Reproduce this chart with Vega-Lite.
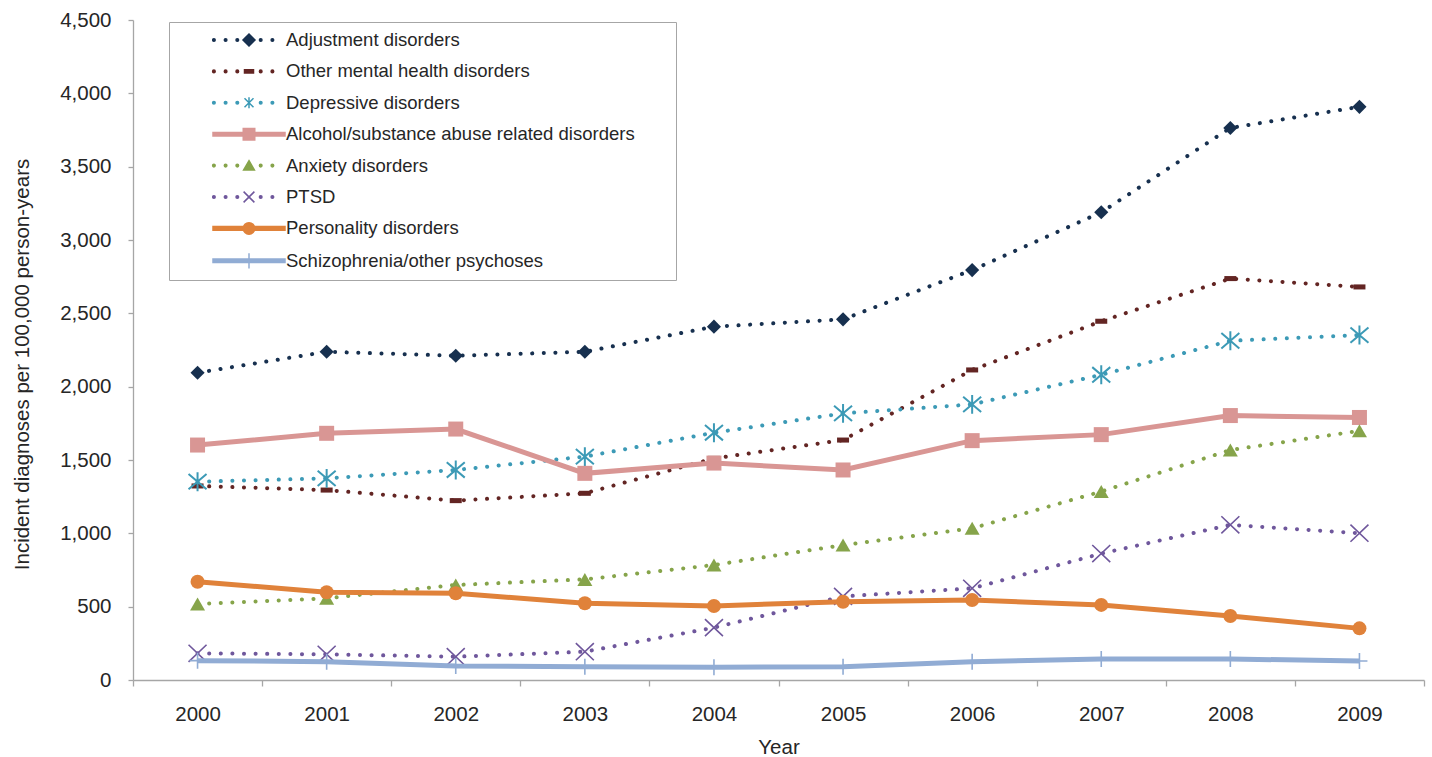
{
  "$schema": "https://vega.github.io/schema/vega-lite/v6.json",
  "autosize": "none",
  "width": 1291,
  "height": 660,
  "padding": {"left": 133, "top": 20, "right": 8, "bottom": 77},
  "background": "#ffffff",
  "config": {"view": {"stroke": null}},
  "data": {"values": [
    {"year": "2000", "series": "Adjustment disorders", "value": 2095},
    {"year": "2001", "series": "Adjustment disorders", "value": 2238},
    {"year": "2002", "series": "Adjustment disorders", "value": 2211},
    {"year": "2003", "series": "Adjustment disorders", "value": 2238},
    {"year": "2004", "series": "Adjustment disorders", "value": 2409},
    {"year": "2005", "series": "Adjustment disorders", "value": 2459},
    {"year": "2006", "series": "Adjustment disorders", "value": 2795},
    {"year": "2007", "series": "Adjustment disorders", "value": 3189},
    {"year": "2008", "series": "Adjustment disorders", "value": 3764},
    {"year": "2009", "series": "Adjustment disorders", "value": 3908},
    {"year": "2000", "series": "Other mental health disorders", "value": 1323},
    {"year": "2001", "series": "Other mental health disorders", "value": 1295},
    {"year": "2002", "series": "Other mental health disorders", "value": 1223},
    {"year": "2003", "series": "Other mental health disorders", "value": 1273},
    {"year": "2004", "series": "Other mental health disorders", "value": 1511},
    {"year": "2005", "series": "Other mental health disorders", "value": 1636},
    {"year": "2006", "series": "Other mental health disorders", "value": 2114},
    {"year": "2007", "series": "Other mental health disorders", "value": 2446},
    {"year": "2008", "series": "Other mental health disorders", "value": 2737},
    {"year": "2009", "series": "Other mental health disorders", "value": 2680},
    {"year": "2000", "series": "Depressive disorders", "value": 1352},
    {"year": "2001", "series": "Depressive disorders", "value": 1375},
    {"year": "2002", "series": "Depressive disorders", "value": 1432},
    {"year": "2003", "series": "Depressive disorders", "value": 1523},
    {"year": "2004", "series": "Depressive disorders", "value": 1686},
    {"year": "2005", "series": "Depressive disorders", "value": 1818},
    {"year": "2006", "series": "Depressive disorders", "value": 1879},
    {"year": "2007", "series": "Depressive disorders", "value": 2081},
    {"year": "2008", "series": "Depressive disorders", "value": 2313},
    {"year": "2009", "series": "Depressive disorders", "value": 2352},
    {"year": "2000", "series": "Alcohol/substance abuse related disorders", "value": 1602},
    {"year": "2001", "series": "Alcohol/substance abuse related disorders", "value": 1682},
    {"year": "2002", "series": "Alcohol/substance abuse related disorders", "value": 1711},
    {"year": "2003", "series": "Alcohol/substance abuse related disorders", "value": 1409},
    {"year": "2004", "series": "Alcohol/substance abuse related disorders", "value": 1479},
    {"year": "2005", "series": "Alcohol/substance abuse related disorders", "value": 1432},
    {"year": "2006", "series": "Alcohol/substance abuse related disorders", "value": 1632},
    {"year": "2007", "series": "Alcohol/substance abuse related disorders", "value": 1673},
    {"year": "2008", "series": "Alcohol/substance abuse related disorders", "value": 1803},
    {"year": "2009", "series": "Alcohol/substance abuse related disorders", "value": 1790},
    {"year": "2000", "series": "Anxiety disorders", "value": 518},
    {"year": "2001", "series": "Anxiety disorders", "value": 557},
    {"year": "2002", "series": "Anxiety disorders", "value": 648},
    {"year": "2003", "series": "Anxiety disorders", "value": 686},
    {"year": "2004", "series": "Anxiety disorders", "value": 784},
    {"year": "2005", "series": "Anxiety disorders", "value": 920},
    {"year": "2006", "series": "Anxiety disorders", "value": 1034},
    {"year": "2007", "series": "Anxiety disorders", "value": 1285},
    {"year": "2008", "series": "Anxiety disorders", "value": 1568},
    {"year": "2009", "series": "Anxiety disorders", "value": 1699},
    {"year": "2000", "series": "PTSD", "value": 182},
    {"year": "2001", "series": "PTSD", "value": 175},
    {"year": "2002", "series": "PTSD", "value": 159},
    {"year": "2003", "series": "PTSD", "value": 193},
    {"year": "2004", "series": "PTSD", "value": 357},
    {"year": "2005", "series": "PTSD", "value": 570},
    {"year": "2006", "series": "PTSD", "value": 625},
    {"year": "2007", "series": "PTSD", "value": 862},
    {"year": "2008", "series": "PTSD", "value": 1058},
    {"year": "2009", "series": "PTSD", "value": 1001},
    {"year": "2000", "series": "Personality disorders", "value": 670},
    {"year": "2001", "series": "Personality disorders", "value": 598},
    {"year": "2002", "series": "Personality disorders", "value": 591},
    {"year": "2003", "series": "Personality disorders", "value": 523},
    {"year": "2004", "series": "Personality disorders", "value": 505},
    {"year": "2005", "series": "Personality disorders", "value": 534},
    {"year": "2006", "series": "Personality disorders", "value": 545},
    {"year": "2007", "series": "Personality disorders", "value": 512},
    {"year": "2008", "series": "Personality disorders", "value": 436},
    {"year": "2009", "series": "Personality disorders", "value": 352},
    {"year": "2000", "series": "Schizophrenia/other psychoses", "value": 132},
    {"year": "2001", "series": "Schizophrenia/other psychoses", "value": 125},
    {"year": "2002", "series": "Schizophrenia/other psychoses", "value": 95},
    {"year": "2003", "series": "Schizophrenia/other psychoses", "value": 91},
    {"year": "2004", "series": "Schizophrenia/other psychoses", "value": 87},
    {"year": "2005", "series": "Schizophrenia/other psychoses", "value": 91},
    {"year": "2006", "series": "Schizophrenia/other psychoses", "value": 125},
    {"year": "2007", "series": "Schizophrenia/other psychoses", "value": 143},
    {"year": "2008", "series": "Schizophrenia/other psychoses", "value": 143},
    {"year": "2009", "series": "Schizophrenia/other psychoses", "value": 130}
  ]},
  "encoding": {
    "x": {
      "field": "year", "type": "ordinal",
      "scale": {"type": "band", "paddingInner": 0, "paddingOuter": 0},
      "axis": {
        "title": "Year", "labelAngle": 0, "tickBand": "extent", "tickSize": 6,
        "tickColor": "#a6a6a6", "tickWidth": 1.3, "domainColor": "#a6a6a6", "domainWidth": 1.3,
        "labelFont": "Liberation Sans", "labelFontSize": 20.5, "labelColor": "#262626", "labelPadding": 18,
        "titleFont": "Liberation Sans", "titleFontSize": 20.5, "titleFontWeight": "normal", "titleColor": "#262626",
        "titleY": 73, "titleBaseline": "alphabetic", "grid": false
      }
    },
    "y": {
      "field": "value", "type": "quantitative",
      "scale": {"domain": [0, 4500], "nice": false, "zero": true},
      "axis": {
        "title": "Incident diagnoses per 100,000 person-years",
        "values": [0, 500, 1000, 1500, 2000, 2500, 3000, 3500, 4000, 4500],
        "format": ",.0f", "tickSize": 5, "tickColor": "#a6a6a6", "tickWidth": 1.3,
        "domainColor": "#a6a6a6", "domainWidth": 1.3,
        "labelFont": "Liberation Sans", "labelFontSize": 20.5, "labelColor": "#262626", "labelPadding": 17,
        "titleFont": "Liberation Sans", "titleFontSize": 20.5, "titleFontWeight": "normal", "titleColor": "#262626",
        "titleX": -105, "titleY": 344, "titleAngle": -90, "titleAlign": "center", "titleBaseline": "alphabetic",
        "grid": false
      }
    }
  },
  "layer": [
    {
      "transform": [{"filter": {"field": "series", "equal": "Adjustment disorders"}}],
      "layer": [
        {"mark": {"type": "line", "color": "#17304F", "strokeWidth": 4, "strokeDash": [0.1, 11.5], "strokeCap": "round"}, "encoding": {}},
        {"mark": {"type": "point", "color": "#17304F", "shape": "diamond", "size": 200, "filled": true, "opacity": 1}}
      ]
    },
    {
      "transform": [{"filter": {"field": "series", "equal": "Other mental health disorders"}}],
      "layer": [
        {"mark": {"type": "line", "color": "#632523", "strokeWidth": 4, "strokeDash": [0.1, 11.5], "strokeCap": "round"}, "encoding": {}},
        {"mark": {"type": "point", "color": "#632523", "shape": "M-1,-0.42H1V0.42H-1Z", "size": 144, "filled": true, "opacity": 1}}
      ]
    },
    {
      "transform": [{"filter": {"field": "series", "equal": "Depressive disorders"}}],
      "layer": [
        {"mark": {"type": "line", "color": "#3C9AB6", "strokeWidth": 4, "strokeDash": [0.1, 11.5], "strokeCap": "round"}, "encoding": {}},
        {"mark": {"type": "point", "color": "#3C9AB6", "shape": "M0,-1.05V1.05M-1,-0.85L1,0.85M-1,0.85L1,-0.85", "size": 324, "filled": false, "strokeWidth": 2, "opacity": 1}}
      ]
    },
    {
      "transform": [{"filter": {"field": "series", "equal": "Alcohol/substance abuse related disorders"}}],
      "layer": [
        {"mark": {"type": "line", "color": "#D99694", "strokeWidth": 5}, "encoding": {}},
        {"mark": {"type": "point", "color": "#D99694", "shape": "square", "size": 225, "filled": true, "opacity": 1}}
      ]
    },
    {
      "transform": [{"filter": {"field": "series", "equal": "Anxiety disorders"}}],
      "layer": [
        {"mark": {"type": "line", "color": "#86A44A", "strokeWidth": 4, "strokeDash": [0.1, 11.5], "strokeCap": "round"}, "encoding": {}},
        {"mark": {"type": "point", "color": "#86A44A", "shape": "triangle-up", "size": 225, "filled": true, "opacity": 1}}
      ]
    },
    {
      "transform": [{"filter": {"field": "series", "equal": "PTSD"}}],
      "layer": [
        {"mark": {"type": "line", "color": "#6F579C", "strokeWidth": 4, "strokeDash": [0.1, 11.5], "strokeCap": "round"}, "encoding": {}},
        {"mark": {"type": "point", "color": "#6F579C", "shape": "M-1,-0.95L1,0.95M-1,0.95L1,-0.95", "size": 324, "filled": false, "strokeWidth": 1.6, "opacity": 1}}
      ]
    },
    {
      "transform": [{"filter": {"field": "series", "equal": "Personality disorders"}}],
      "layer": [
        {"mark": {"type": "line", "color": "#E0823A", "strokeWidth": 5}, "encoding": {}},
        {"mark": {"type": "point", "color": "#E0823A", "shape": "circle", "size": 196, "filled": true, "opacity": 1}}
      ]
    },
    {
      "transform": [{"filter": {"field": "series", "equal": "Schizophrenia/other psychoses"}}],
      "layer": [
        {"mark": {"type": "line", "color": "#91ACD4", "strokeWidth": 5}, "encoding": {}},
        {"mark": {"type": "point", "color": "#91ACD4", "shape": "M0,-1V1M-1,0H1", "size": 256, "filled": false, "strokeWidth": 1.6, "opacity": 1}}
      ]
    },
    {
      "transform": [{"filter": "false"}],
      "mark": {"type": "point", "filled": true, "opacity": 1},
      "encoding": {
        "color": {
          "field": "series", "type": "nominal",
          "scale": {
            "domain": ["Adjustment disorders", "Other mental health disorders", "Depressive disorders", "Alcohol/substance abuse related disorders", "Anxiety disorders", "PTSD", "Personality disorders", "Schizophrenia/other psychoses"],
            "range": ["#17304F", "#632523", "#3C9AB6", "#D99694", "#86A44A", "#6F579C", "#E0823A", "#91ACD4"]
          },
          "legend": {
            "orient": "none", "legendX": 36, "legendY": 2, "direction": "vertical",
            "title": null, "padding": 8, "strokeColor": "#a6a6a6", "fillColor": "#ffffff",
            "symbolSize": 324, "symbolStrokeWidth": 1.5, "symbolOffset": 62, "labelOffset": 27,
            "rowPadding": 11.4, "labelFont": "Liberation Sans", "labelFontSize": 18.5,
            "labelColor": "#262626", "labelLimit": 0, "labelBaseline": "middle", "symbolOpacity": 1
          }
        },
        "stroke": {
          "field": "series", "type": "nominal",
          "scale": {
            "domain": ["Adjustment disorders", "Other mental health disorders", "Depressive disorders", "Alcohol/substance abuse related disorders", "Anxiety disorders", "PTSD", "Personality disorders", "Schizophrenia/other psychoses"],
            "range": ["#17304F", "#632523", "#3C9AB6", "#D99694", "#86A44A", "#6F579C", "#E0823A", "#91ACD4"]
          },
          "legend": {
            "orient": "none", "legendX": 36, "legendY": 2, "direction": "vertical",
            "title": null, "padding": 8, "strokeColor": "#a6a6a6", "fillColor": "#ffffff",
            "symbolSize": 324, "symbolStrokeWidth": 1.5, "symbolOffset": 62, "labelOffset": 27,
            "rowPadding": 11.4, "labelFont": "Liberation Sans", "labelFontSize": 18.5,
            "labelColor": "#262626", "labelLimit": 0, "labelBaseline": "middle", "symbolOpacity": 1
          }
        },
        "shape": {
          "field": "series", "type": "nominal",
          "scale": {
            "domain": ["Adjustment disorders", "Other mental health disorders", "Depressive disorders", "Alcohol/substance abuse related disorders", "Anxiety disorders", "PTSD", "Personality disorders", "Schizophrenia/other psychoses"],
            "range": [
              "M-4.044,0A0.144,0.144,0,1,1,-3.756,0A0.144,0.144,0,1,1,-4.044,0ZM-2.744,0A0.144,0.144,0,1,1,-2.456,0A0.144,0.144,0,1,1,-2.744,0ZM-1.444,0A0.144,0.144,0,1,1,-1.156,0A0.144,0.144,0,1,1,-1.444,0ZM1.156,0A0.144,0.144,0,1,1,1.444,0A0.144,0.144,0,1,1,1.156,0ZM2.456,0A0.144,0.144,0,1,1,2.744,0A0.144,0.144,0,1,1,2.456,0ZM0,-0.667L0.667,0L0,0.667L-0.667,0ZM46.2,0",
              "M-4.044,0A0.144,0.144,0,1,1,-3.756,0A0.144,0.144,0,1,1,-4.044,0ZM-2.744,0A0.144,0.144,0,1,1,-2.456,0A0.144,0.144,0,1,1,-2.744,0ZM-1.444,0A0.144,0.144,0,1,1,-1.156,0A0.144,0.144,0,1,1,-1.444,0ZM1.156,0A0.144,0.144,0,1,1,1.444,0A0.144,0.144,0,1,1,1.156,0ZM2.456,0A0.144,0.144,0,1,1,2.744,0A0.144,0.144,0,1,1,2.456,0ZM-0.5,-0.17H0.5V0.17H-0.5ZM46.2,0",
              "M-4.044,0A0.144,0.144,0,1,1,-3.756,0A0.144,0.144,0,1,1,-4.044,0ZM-2.744,0A0.144,0.144,0,1,1,-2.456,0A0.144,0.144,0,1,1,-2.744,0ZM-1.444,0A0.144,0.144,0,1,1,-1.156,0A0.144,0.144,0,1,1,-1.444,0ZM1.156,0A0.144,0.144,0,1,1,1.444,0A0.144,0.144,0,1,1,1.156,0ZM2.456,0A0.144,0.144,0,1,1,2.744,0A0.144,0.144,0,1,1,2.456,0ZM0,-0.611V0.611M-0.5,-0.5L0.5,0.5M-0.5,0.5L0.5,-0.5M46.2,0",
              "M-4,-0.2H4V0.2H-4ZM-0.64,-0.64H0.64V0.64H-0.64ZM46.2,0",
              "M-4.044,0A0.144,0.144,0,1,1,-3.756,0A0.144,0.144,0,1,1,-4.044,0ZM-2.744,0A0.144,0.144,0,1,1,-2.456,0A0.144,0.144,0,1,1,-2.744,0ZM-1.444,0A0.144,0.144,0,1,1,-1.156,0A0.144,0.144,0,1,1,-1.444,0ZM1.156,0A0.144,0.144,0,1,1,1.444,0A0.144,0.144,0,1,1,1.156,0ZM2.456,0A0.144,0.144,0,1,1,2.744,0A0.144,0.144,0,1,1,2.456,0ZM0,-0.55L0.6,0.5L-0.6,0.5ZM46.2,0",
              "M-4.044,0A0.144,0.144,0,1,1,-3.756,0A0.144,0.144,0,1,1,-4.044,0ZM-2.744,0A0.144,0.144,0,1,1,-2.456,0A0.144,0.144,0,1,1,-2.744,0ZM-1.444,0A0.144,0.144,0,1,1,-1.156,0A0.144,0.144,0,1,1,-1.444,0ZM1.156,0A0.144,0.144,0,1,1,1.444,0A0.144,0.144,0,1,1,1.156,0ZM2.456,0A0.144,0.144,0,1,1,2.744,0A0.144,0.144,0,1,1,2.456,0ZM-0.6,-0.6L0.6,0.6M-0.6,0.6L0.6,-0.6M46.2,0",
              "M-4,-0.2H4V0.2H-4ZM-0.64,0A0.64,0.64,0,1,1,0.64,0A0.64,0.64,0,1,1,-0.64,0ZM46.2,0",
              "M-4,-0.2H4V0.2H-4ZM0,-0.85V0.85M46.2,0"
            ]
          },
          "legend": {
            "orient": "none", "legendX": 36, "legendY": 2, "direction": "vertical",
            "title": null, "padding": 8, "strokeColor": "#a6a6a6", "fillColor": "#ffffff",
            "symbolSize": 324, "symbolStrokeWidth": 1.5, "symbolOffset": 62, "labelOffset": 27,
            "rowPadding": 11.4, "labelFont": "Liberation Sans", "labelFontSize": 18.5,
            "labelColor": "#262626", "labelLimit": 0, "labelBaseline": "middle", "symbolOpacity": 1
          }
        }
      }
    }
  ]
}
